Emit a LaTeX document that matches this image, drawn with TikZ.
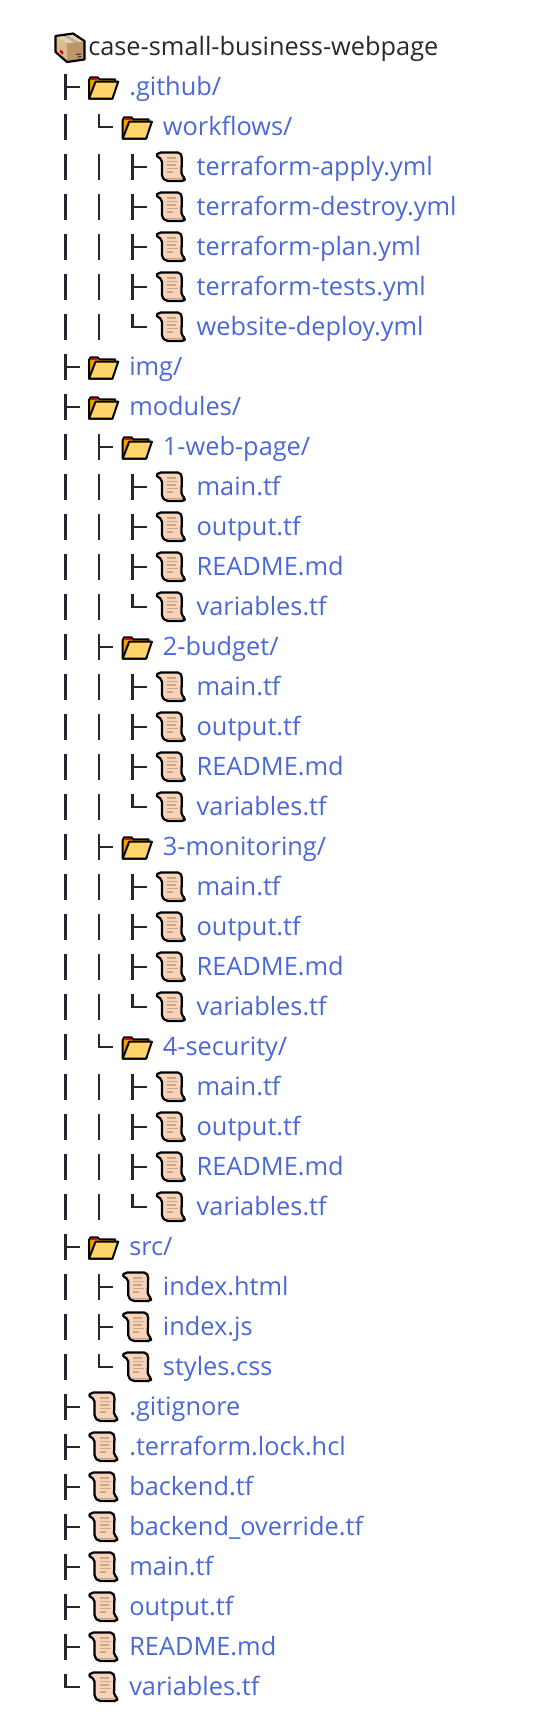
\documentclass[tikz,border=0pt]{standalone}
\usepackage{fontspec}
\setmainfont{Open Sans}
\definecolor{linkblue}{HTML}{4A69D6}
\definecolor{treeink}{HTML}{24292F}
\definecolor{fileskin}{HTML}{F7D3BB}
\definecolor{filemark}{HTML}{CBA77F}
\definecolor{boxleft}{HTML}{DDB98E}
\definecolor{boxright}{HTML}{BD9767}
\definecolor{boxtop}{HTML}{E9D1AC}
\definecolor{folderback}{HTML}{F0A000}
\definecolor{folderfront}{HTML}{FFD56B}
\tikzset{
  treeline/.style={draw=treeink, line width=2.2pt},
  entry/.style={anchor=base west, inner sep=0pt, text=linkblue, font=\fontsize{19}{22}\selectfont},
  folderpic/.pic={
    \filldraw[fill=folderback, draw=black, line width=1.5pt, line join=round]
      (-14.5,11.5)--(-14.5,-7)--(-13,-9.7)--(-6,-9.7)--(-4,-7.7)--(11.5,-7.7)--(11.5,-3)--(9,11.5)--cycle;
    \fill[red!85!black](-12.5,-9)rectangle(-6.5,-7);
    \filldraw[fill=folderfront, draw=black, line width=1.5pt, line join=round]
      (-14.5,11.5)--(-8,-5.3)--(14.7,-5.3)--(9,11.5)--cycle;
  },
  filepic/.pic={
    \filldraw[fill=fileskin, draw=black, line width=1.7pt, line join=round, rounded corners=1.5pt]
      (-15,-11.5)--(-12,-14.5)--(9,-14.5)--(11,-11)--(10.5,8)--(14.5,11.5)--(13,14)--(-5,14)--(-9,10)--(-9,-7.5)--cycle;
    \draw[filemark, line width=1pt]
      (-4,-9)--(5,-9) (-4,-5.5)--(7,-5.5) (-4,-2)--(5,-2) (-4,1.5)--(7,1.5) (-4,5)--(2,5);
    \draw[filemark, line width=1.2pt] (-6,11.6)--(12,11.6);
  },
  boxpic/.pic={
    \fill[boxleft](-14.5,-11.5)--(-3,-4.5)--(-3,14.5)--(-14.5,4.5)--cycle;
    \fill[boxright](-3,-4.5)--(14.5,-6.5)--(14.5,12)--(-3,14.5)--cycle;
    \fill[boxtop](-14.5,-11.5)--(3,-14)--(14.5,-6.5)--(-3,-4.5)--cycle;
    \fill[gray!60](-8,-12.3)--(-4,-12.9)--(8,-5.8)--(4,-5.3)--cycle;
    \fill[red!80!black](-10,2)--(-7,4)--(-7,7)--(-10,5)--cycle;
    \draw[treeink, line width=.7pt](6,7)--(11,6.5) (8,9.5)--(11,9);
    \draw[black, line width=1.6pt, line join=round]
      (-14.5,-11.5)--(3,-14)--(14.5,-6.5)--(14.5,12)--(-3,14.5)--(-14.5,4.5)--cycle;
  },
}
\begin{document}
\begin{tikzpicture}[x=.75pt, y=-.75pt]
\useasboundingbox (0,0) rectangle (558,1718);
\pic at (70,47.5) {boxpic};
\node[entry, text=treeink] (root) at (88,55) {case-small-business-webpage};
\foreach \lvl/\stem/\icon/\name [count=\r from 1] in {
  1/tee/folderpic/{.github/},
  2/ell/folderpic/{workflows/},
  3/tee/filepic/{terraform-apply.yml},
  3/tee/filepic/{terraform-destroy.yml},
  3/tee/filepic/{terraform-plan.yml},
  3/tee/filepic/{terraform-tests.yml},
  3/ell/filepic/{website-deploy.yml},
  1/tee/folderpic/{img/},
  1/tee/folderpic/{modules/},
  2/tee/folderpic/{1-web-page/},
  3/tee/filepic/{main.tf},
  3/tee/filepic/{output.tf},
  3/tee/filepic/{README.md},
  3/ell/filepic/{variables.tf},
  2/tee/folderpic/{2-budget/},
  3/tee/filepic/{main.tf},
  3/tee/filepic/{output.tf},
  3/tee/filepic/{README.md},
  3/ell/filepic/{variables.tf},
  2/tee/folderpic/{3-monitoring/},
  3/tee/filepic/{main.tf},
  3/tee/filepic/{output.tf},
  3/tee/filepic/{README.md},
  3/ell/filepic/{variables.tf},
  2/ell/folderpic/{4-security/},
  3/tee/filepic/{main.tf},
  3/tee/filepic/{output.tf},
  3/tee/filepic/{README.md},
  3/ell/filepic/{variables.tf},
  1/tee/folderpic/{src/},
  2/tee/filepic/{index.html},
  2/tee/filepic/{index.js},
  2/ell/filepic/{styles.css},
  1/tee/filepic/{.gitignore},
  1/tee/filepic/{.terraform.lock.hcl},
  1/tee/filepic/{backend.tf},
  1/tee/filepic/{backend\_override.tf},
  1/tee/filepic/{main.tf},
  1/tee/filepic/{output.tf},
  1/tee/filepic/{README.md},
  1/ell/filepic/{variables.tf}}
{
  \pgfmathsetmacro{\ypos}{47+40*\r}
  \pgfmathsetmacro{\xstem}{65.5+33.5*(\lvl-1)}
  \pic at ({103.5+33.7*(\lvl-1)},\ypos) {\icon};
  \node[entry] (t\r) at ({129+33.7*(\lvl-1)},{\ypos+8}) {\name};
  \foreach \c in {1,...,\lvl}
  {
    \pgfmathsetmacro{\xbar}{65.5+33.5*(\c-1)}
    \coordinate (top\r-\c) at (\xbar,\ypos-13);
    \coordinate (bot\r-\c) at (\xbar,\ypos+13);
    \ifnum\c<\lvl
      \draw[treeline] (top\r-\c)--(bot\r-\c);
    \fi
  }
  \coordinate (tip\r) at (\xstem+14,\ypos);
  \coordinate (mid\r) at (\xstem,\ypos);
  \ifnum\pdfstrcmp{\stem}{tee}=0
    \draw[treeline] (top\r-\lvl)--(bot\r-\lvl) (mid\r)--(tip\r);
  \else
    \draw[treeline, line join=miter] (top\r-\lvl)--(mid\r)--(tip\r);
  \fi
}
\end{tikzpicture}
\end{document}
